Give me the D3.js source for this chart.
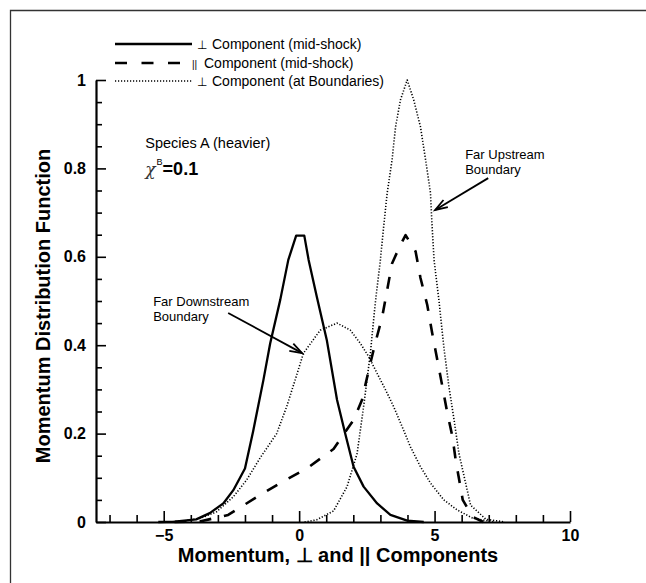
<!DOCTYPE html>
<html>
<head>
<meta charset="utf-8">
<script src="https://cdn.jsdelivr.net/npm/d3@7"></script>
<style>
  html, body { margin: 0; padding: 0; background: #fff; }
  svg { display: block; font-family: "Liberation Sans", Arial, Helvetica, sans-serif; }
</style>
</head>
<body>
<svg id="chart" width="646" height="583"></svg>
<script>
// Momentum distribution function of species A (heavier), chi^B = 0.1

// perpendicular component at mid-shock  [momentum, f]
const perpMid = [
  [-5.2, 0.0], [-4.6, 0.001], [-3.8, 0.006], [-3.3, 0.02], [-2.8, 0.042],
  [-2.43, 0.072], [-2.0, 0.121], [-1.7, 0.205], [-1.32, 0.321], [-1.07, 0.404],
  [-0.7, 0.502], [-0.4, 0.593], [-0.11, 0.648], [0.19, 0.648], [0.35, 0.593],
  [0.65, 0.51], [1.02, 0.412], [1.4, 0.276], [1.7, 0.2], [2.01, 0.125],
  [2.38, 0.08], [2.88, 0.042], [3.37, 0.016], [3.99, 0.003], [4.6, 0.0]
];

// parallel component at mid-shock
const paraMid = [
  [-4.6, 0.0], [-3.67, 0.001], [-2.62, 0.016], [-1.63, 0.054], [-0.7, 0.088],
  [0.28, 0.121], [1.27, 0.165], [2.01, 0.231], [2.32, 0.276], [2.57, 0.344],
  [2.81, 0.405], [3.06, 0.462], [3.25, 0.525], [3.43, 0.585], [3.74, 0.627],
  [3.93, 0.649], [4.3, 0.612], [4.48, 0.552], [4.73, 0.491], [4.91, 0.428],
  [5.1, 0.367], [5.29, 0.306], [5.47, 0.247], [5.66, 0.193], [5.78, 0.14],
  [6.04, 0.05], [6.4, 0.012], [6.8, 0.0]
];

// perpendicular component, far downstream boundary
const perpDown = [
  [-4.9, 0.0], [-4.3, 0.002], [-3.67, 0.008], [-3.05, 0.023], [-2.43, 0.057],
  [-1.94, 0.095], [-1.44, 0.145], [-0.83, 0.2], [-0.46, 0.261], [-0.15, 0.321],
  [0.16, 0.382], [0.78, 0.434], [1.4, 0.45], [1.89, 0.434], [2.26, 0.404],
  [2.57, 0.374], [2.88, 0.336], [3.19, 0.299], [3.49, 0.261], [3.8, 0.216],
  [4.11, 0.17], [4.48, 0.125], [4.85, 0.088], [5.34, 0.05], [5.84, 0.027],
  [6.4, 0.009], [7.2, 0.0]
];

// perpendicular component, far upstream boundary
const perpUp = [
  [0.2, 0.0], [0.65, 0.005], [1.27, 0.025], [1.77, 0.08], [2.14, 0.155],
  [2.38, 0.261], [2.63, 0.382], [2.81, 0.495], [3.0, 0.593], [3.12, 0.668],
  [3.25, 0.744], [3.43, 0.819], [3.56, 0.894], [3.74, 0.955], [3.99, 1.0],
  [4.23, 0.955], [4.48, 0.894], [4.67, 0.819], [4.85, 0.744], [4.91, 0.668],
  [4.98, 0.593], [5.16, 0.502], [5.34, 0.397], [5.53, 0.306], [5.72, 0.231],
  [5.9, 0.155], [6.33, 0.038], [6.9, 0.006], [7.6, 0.0]
];

const xMajorTicks = [-5, 0, 5, 10];
const xMinorTicks = d3.range(-7, 10.001, 1).filter(v => !xMajorTicks.includes(v));
const yMajorTicks = [0, 0.2, 0.4, 0.6, 0.8, 1];
const yMajorLabels = ["0", "0.2", "0.4", "0.6", "0.8", "1"];
const yMinorTicks = d3.range(0.05, 1.0, 0.05).filter(v => Math.abs(v * 5 - Math.round(v * 5)) > 1e-6);

const legendLabels = [
  { sym: "\u22A5", text: "Component (mid-shock)" },
  { sym: "||", text: "Component (mid-shock)" },
  { sym: "\u22A5", text: "Component (at Boundaries)" }
];

const svg = d3.select("#chart");

// page frame
svg.append("path")
  .attr("d", "M10.5,583 V10.5 H646")
  .attr("fill", "none").attr("stroke", "#333").attr("stroke-width", 1.3);

const x = d3.scaleLinear().domain([-7.5, 10]).range([96, 570]);
const y = d3.scaleLinear().domain([0, 1]).range([522, 80]);

// ----- axes -----
const gx = svg.append("g").attr("transform", `translate(0,${y(0)})`);
gx.append("g").call(d3.axisBottom(x).tickValues(xMinorTicks).tickSize(-7).tickFormat("").tickSizeOuter(0))
  .call(g => g.select(".domain").remove());
gx.append("g").call(d3.axisBottom(x).tickValues(xMajorTicks).tickSize(-11).tickSizeOuter(0).tickPadding(8)
    .tickFormat(d3.format("d")));

const gy = svg.append("g").attr("transform", `translate(${x(-7.5)},0)`);
gy.append("g").call(d3.axisLeft(y).tickValues(yMinorTicks).tickSize(-6).tickFormat("").tickSizeOuter(0))
  .call(g => g.select(".domain").remove());
gy.append("g").call(d3.axisLeft(y).tickValues(yMajorTicks).tickSize(-10).tickSizeOuter(0).tickPadding(10)
    .tickFormat((d, i) => yMajorLabels[i]));

svg.selectAll(".domain").attr("stroke", "#000").attr("stroke-width", 2.2);
svg.selectAll(".tick line").attr("stroke", "#000").attr("stroke-width", 1.6);
svg.selectAll(".tick text")
  .attr("fill", "#000").attr("font-size", 16).attr("font-weight", "bold")
  .attr("font-family", "Liberation Sans, Arial, sans-serif");

// axis titles
svg.append("text")
  .attr("x", 338).attr("y", 562)
  .attr("text-anchor", "middle").attr("font-size", 20).attr("font-weight", "bold")
  .text("Momentum, \u22A5 and || Components");

svg.append("text")
  .attr("transform", `translate(50,306) rotate(-90)`)
  .attr("text-anchor", "middle").attr("font-size", 20).attr("font-weight", "bold")
  .text("Momentum Distribution Function");

// ----- curves -----
const line = d3.line().x(d => x(d[0])).y(d => y(d[1])).curve(d3.curveLinear);

const styles = {
  solid:  { width: 2.3, dash: null },
  dashed: { width: 2.6, dash: "12,13" },
  dotted: { width: 1.6, dash: "1.2,1.8" }
};

function drawCurve(data, st) {
  svg.append("path")
    .datum(data)
    .attr("d", line)
    .attr("fill", "none")
    .attr("stroke", "#000")
    .attr("stroke-width", st.width)
    .attr("stroke-dasharray", st.dash)
    .attr("stroke-linejoin", "round");
}
drawCurve(perpDown, styles.dotted);
drawCurve(perpUp, styles.dotted);
drawCurve(paraMid, styles.dashed);
drawCurve(perpMid, styles.solid);

// ----- legend -----
const legendSamples = [
  { st: styles.solid, x2: 192, dash: null },
  { st: styles.dashed, x2: 180, dash: "12,14.5" },
  { st: styles.dotted, x2: 192, dash: styles.dotted.dash }
];
const legendRows = [44, 63, 81];
legendLabels.forEach((item, i) => {
  const ly = legendRows[i];
  const s = legendSamples[i];
  svg.append("line")
    .attr("x1", 115).attr("x2", s.x2).attr("y1", ly).attr("y2", ly)
    .attr("stroke", "#000").attr("stroke-width", s.st.width)
    .attr("stroke-dasharray", s.dash);
  if (item.sym === "||") {
    svg.append("text").attr("x", 192).attr("y", ly + 5)
      .attr("font-size", 10).text(item.sym);
    svg.append("text").attr("x", 204).attr("y", ly + 5)
      .attr("font-size", 14).text(item.text);
  } else {
    svg.append("text").attr("x", 197).attr("y", ly + 5)
      .attr("font-size", 12).attr("font-family", "DejaVu Sans, sans-serif").text(item.sym);
    svg.append("text").attr("x", 212).attr("y", ly + 5)
      .attr("font-size", 14).text(item.text);
  }
});

// ----- annotations -----
svg.append("text")
  .attr("x", x(-5.68)).attr("y", y(0.846))
  .attr("font-size", 14.5).text("Species A (heavier)");

const chi = svg.append("text").attr("x", x(-5.68)).attr("y", y(0.785));
chi.append("tspan").attr("font-family", "DejaVu Serif, serif").attr("font-style", "italic")
  .attr("font-size", 17).attr("fill", "#333").text("\u03C7");
chi.append("tspan").attr("font-size", 9).attr("dy", -10).attr("dx", 1).text("B");
chi.append("tspan").attr("font-size", 18).attr("font-weight", "bold").attr("dy", 10).text("=0.1");

function annotation(lines, tx, ty, tail, head) {
  lines.forEach((s, i) => {
    svg.append("text")
      .attr("x", x(tx)).attr("y", y(ty) + i * 15)
      .attr("font-size", 13).text(s);
  });
  const x1 = x(tail[0]), y1 = y(tail[1]), x2 = x(head[0]), y2 = y(head[1]);
  svg.append("line").attr("x1", x1).attr("y1", y1).attr("x2", x2).attr("y2", y2)
    .attr("stroke", "#000").attr("stroke-width", 1.8);
  const ang = Math.atan2(y1 - y2, x1 - x2);
  const len = 13, spread = 0.33;
  const pts = [
    [x2 + len * Math.cos(ang + spread), y2 + len * Math.sin(ang + spread)],
    [x2, y2],
    [x2 + len * Math.cos(ang - spread), y2 + len * Math.sin(ang - spread)]
  ];
  svg.append("path").attr("d", d3.line()(pts))
    .attr("fill", "none").attr("stroke", "#000").attr("stroke-width", 1.8);
}

annotation(["Far Upstream", "Boundary"], 6.13, 0.821, [6.98, 0.778], [5.02, 0.706]);
annotation(["Far Downstream", "Boundary"], -5.39, 0.489, [-2.62, 0.473], [0.11, 0.382]);
</script>
</body>
</html>
